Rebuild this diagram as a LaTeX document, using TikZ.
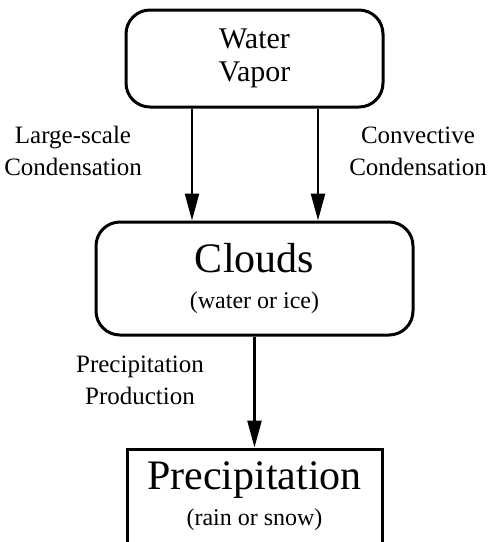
\documentclass[tikz,border=0pt]{standalone}
\usepackage{fontspec}
\setmainfont{Liberation Serif}
\usetikzlibrary{arrows.meta, positioning}

\begin{document}
\begin{tikzpicture}[x=1pt, y=1pt, node distance=112pt, >={Triangle[length=27pt,width=14pt]}]
    \tikzstyle{box} = [rectangle, draw, line width=3pt, align=center, inner sep=0pt]
    \tikzstyle{roundbox} = [box, rounded corners=24pt]
    \tikzstyle{lbl} = [align=center, font=\fontsize{25}{32}\selectfont]
    \useasboundingbox (0,0) rectangle (491,-542);

    \node [roundbox, minimum width=257pt, minimum height=97pt, font=\fontsize{30}{33}\selectfont] (vapor) at (254.5,-58.5) {Water\\Vapor};
    \node [roundbox, below=112pt of vapor, minimum width=317pt, minimum height=113pt, font=\fontsize{24}{36}\selectfont] (clouds) {{\fontsize{42}{42}\selectfont Clouds}\\(water or ice)};
    \node [box, below=111pt of clouds, minimum width=255pt, minimum height=95pt, font=\fontsize{24}{36}\selectfont] (precip) {{\fontsize{42}{42}\selectfont Precipitation}\\(rain or snow)};

    \node [lbl] (lsc) at (73,-151) {Large-scale\\Condensation};
    \node [lbl] (cvc) at (418,-151) {Convective\\Condensation};
    \node [lbl] (ppr) at (140,-380) {Precipitation\\Production};

    \draw [->, line width=2.5pt] ([xshift=-62.5pt]vapor.south) -- ([xshift=-62.5pt]vapor.south |- clouds.north);
    \draw [->, line width=2.5pt] ([xshift=63.5pt]vapor.south) -- ([xshift=63.5pt]vapor.south |- clouds.north);
    \draw [->, line width=2.5pt] (clouds) -- (precip);
\end{tikzpicture}
\end{document}
